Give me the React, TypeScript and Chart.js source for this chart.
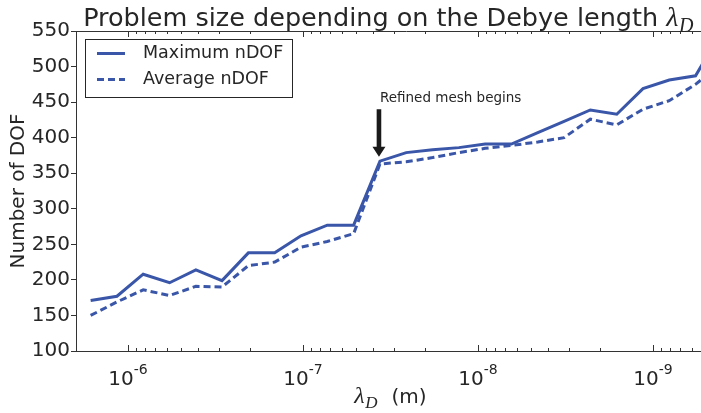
import { useEffect, useRef } from 'react';
import { Chart, registerables } from 'chart.js';

Chart.register(...registerables);

// Debye length of each run (m), from coarse to fine
const debyeLength = [
  1.633e-6, 1.155e-6, 8.18e-7, 5.78e-7, 4.09e-7, 2.9e-7, 2.05e-7, 1.45e-7,
  1.026e-7, 7.26e-8, 5.13e-8, 3.63e-8, 2.57e-8, 1.816e-8, 1.285e-8, 9.09e-9,
  6.44e-9, 4.55e-9, 3.22e-9, 2.28e-9, 1.61e-9, 1.14e-9, 8.07e-10, 5.71e-10,
  4.04e-10,
];
// Degrees of freedom per run
const maxDof = [
  171, 177, 208, 196, 214, 199, 238, 238, 262, 277, 277, 367, 379, 383, 386,
  391, 391, 407, 423, 439, 433, 469, 481, 487, 550,
];
const avgDof = [
  150, 169, 186, 178, 191, 190, 220, 225, 246, 254, 265, 363, 366, 372, 379,
  385, 389, 394, 400, 426, 418, 440, 452, 475, 505,
];
const seriesNames = ['Maximum nDOF', 'Average nDOF'];
const yLimits = [100, 550];
const yStep = 50;
const xLimits = [3.31e-10, 1.98e-6];
const xDecades = [-6, -7, -8, -9];
// Annotation: index where the refined mesh starts
const refinedIndex = 11;
const annotationText = 'Refined mesh begins';
const arrowTipValue = 373;
const arrowTailValue = 440;
const annotationTextValue = 450;

const LINE = '#3a56a8';
const INK = '#262626';
const SPINE = '#333333';
const SANS = '"DejaVu Sans"';
const MATH = '"Liberation Serif"';

function drawMathLambda(ctx: CanvasRenderingContext2D, x: number, y: number, size: number) {
  // italic lambda with a subscript D; returns the drawn width
  ctx.font = `italic ${size}px ${MATH}`;
  ctx.fillText('λ', x, y);
  const w1 = ctx.measureText('λ').width;
  const sub = Math.round(size * 0.7);
  ctx.font = `italic ${sub}px ${MATH}`;
  ctx.fillText('D', x + w1 + 0.5, y + size * 0.22);
  return w1 + 0.5 + ctx.measureText('D').width;
}

const decorPlugin = {
  id: 'decor',
  afterDraw(chart: any) {
    const { ctx, chartArea: a, scales } = chart;
    const xs = scales.x;
    const ys = scales.y;
    ctx.save();

    // top spine
    ctx.strokeStyle = SPINE;
    ctx.lineWidth = 1;
    ctx.beginPath();
    ctx.moveTo(a.left, Math.round(a.top) + 0.5);
    ctx.lineTo(a.right, Math.round(a.top) + 0.5);
    ctx.stroke();

    // inward log ticks on bottom and top
    const lo = xs.min;
    const hi = xs.max;
    ctx.beginPath();
    for (let e = -11; e <= -4; e++) {
      for (let m = 1; m <= 9; m++) {
        const v = m * Math.pow(10, e);
        if (v < lo || v > hi) continue;
        const px = Math.round(xs.getPixelForValue(v)) + 0.5;
        const len = m === 1 ? 6 : 3;
        ctx.moveTo(px, a.bottom);
        ctx.lineTo(px, a.bottom - len);
        ctx.moveTo(px, a.top);
        ctx.lineTo(px, a.top + len);
      }
    }
    ctx.stroke();

    // x tick labels 10^n
    ctx.fillStyle = INK;
    ctx.textBaseline = 'alphabetic';
    ctx.textAlign = 'left';
    for (const d of xDecades) {
      const px = xs.getPixelForValue(Math.pow(10, d));
      ctx.font = `20px ${SANS}`;
      const wBase = ctx.measureText('10').width;
      ctx.font = `14px ${SANS}`;
      const exp = String(d);
      const wExp = ctx.measureText(exp).width;
      const start = px - (wBase + wExp) / 2;
      ctx.font = `20px ${SANS}`;
      ctx.fillText('10', start, a.bottom + 34);
      ctx.font = `14px ${SANS}`;
      ctx.fillText(exp, start + wBase, a.bottom + 23);
    }

    // x axis title
    {
      ctx.font = `20px ${SANS}`;
      const unit = '(m)';
      const wUnit = ctx.measureText(unit).width;
      ctx.font = `italic 24px ${MATH}`;
      const wL = ctx.measureText('λ').width;
      ctx.font = `italic 17px ${MATH}`;
      const wD = ctx.measureText('D').width;
      const gap = 14;
      const total = wL + 0.5 + wD + gap + wUnit;
      const cx = (a.left + 701) / 2 + 2;
      const x0 = cx - total / 2;
      const base = a.bottom + 52;
      drawMathLambda(ctx, x0, base, 24);
      ctx.font = `20px ${SANS}`;
      ctx.fillText(unit, x0 + wL + 0.5 + wD + gap, base);
    }

    // y axis title
    ctx.save();
    ctx.translate(24, (a.top + a.bottom) / 2);
    ctx.rotate(-Math.PI / 2);
    ctx.textAlign = 'center';
    ctx.font = `20px ${SANS}`;
    ctx.fillText('Number of DOF', 0, 0);
    ctx.restore();

    // title
    {
      const text = 'Problem size depending on the Debye length ';
      ctx.font = `25.5px ${SANS}`;
      const wT = ctx.measureText(text).width;
      ctx.font = `italic 28px ${MATH}`;
      const wL = ctx.measureText('λ').width;
      ctx.font = `italic 20px ${MATH}`;
      const wD = ctx.measureText('D').width;
      const total = wT + wL + wD;
      const x0 = 388 - total / 2;
      const base = 26;
      ctx.font = `25.5px ${SANS}`;
      ctx.fillText(text, x0, base);
      drawMathLambda(ctx, x0 + wT, base, 28);
    }

    // annotation arrow and text
    {
      const ax = xs.getPixelForValue(debyeLength[refinedIndex]) - 1;
      const tipY = ys.getPixelForValue(arrowTipValue);
      const tailY = ys.getPixelForValue(arrowTailValue);
      const textY = ys.getPixelForValue(annotationTextValue);
      ctx.fillStyle = '#1a1a1a';
      const headLen = 10;
      const headHalf = 6.5;
      const shaftHalf = 2.3;
      ctx.beginPath();
      ctx.moveTo(ax - shaftHalf, tailY);
      ctx.lineTo(ax + shaftHalf, tailY);
      ctx.lineTo(ax + shaftHalf, tipY - headLen);
      ctx.lineTo(ax + headHalf, tipY - headLen);
      ctx.lineTo(ax, tipY);
      ctx.lineTo(ax - headHalf, tipY - headLen);
      ctx.lineTo(ax - shaftHalf, tipY - headLen);
      ctx.closePath();
      ctx.fill();
      ctx.fillStyle = INK;
      ctx.font = `13.5px ${SANS}`;
      ctx.textAlign = 'left';
      ctx.fillText(annotationText, ax + 1, textY);
    }

    // legend
    {
      const bx = 85.5, by = 39.5, bw = 207, bh = 58;
      ctx.fillStyle = '#ffffff';
      ctx.fillRect(bx, by, bw, bh);
      ctx.strokeStyle = INK;
      ctx.lineWidth = 1;
      ctx.strokeRect(bx, by, bw, bh);
      const rows = [by + 14, by + 40];
      chart.data.datasets.forEach((ds: any, i: number) => {
        ctx.strokeStyle = ds.borderColor;
        ctx.lineWidth = ds.borderWidth;
        ctx.setLineDash(ds.borderDash || []);
        ctx.beginPath();
        ctx.moveTo(97, rows[i]);
        ctx.lineTo(125, rows[i]);
        ctx.stroke();
        ctx.setLineDash([]);
        ctx.fillStyle = INK;
        ctx.font = `17.5px ${SANS}`;
        ctx.textBaseline = 'middle';
        ctx.fillText(ds.label, 143, rows[i]);
      });
    }

    ctx.restore();
  },
};

export default function App() {
  const canvasRef = useRef<HTMLCanvasElement | null>(null);

  useEffect(() => {
    const canvas = canvasRef.current;
    if (!canvas) return;
    const yTickValues: number[] = [];
    for (let v = yLimits[0]; v <= yLimits[1]; v += yStep) yTickValues.push(v);

    const chart = new Chart(canvas, {
      type: 'line',
      data: {
        datasets: [
          {
            label: seriesNames[0],
            data: debyeLength.map((x, i) => ({ x, y: maxDof[i] })),
            borderColor: LINE,
            borderWidth: 3,
            pointRadius: 0,
            fill: false,
            tension: 0,
          },
          {
            label: seriesNames[1],
            data: debyeLength.map((x, i) => ({ x, y: avgDof[i] })),
            borderColor: LINE,
            borderWidth: 3,
            borderDash: [7, 4],
            pointRadius: 0,
            fill: false,
            tension: 0,
          },
        ],
      },
      options: {
        animation: false,
        responsive: false,
        devicePixelRatio: 1,
        layout: { padding: { top: 31, right: 3, left: 0, bottom: 0 } },
        plugins: {
          legend: { display: false },
          title: { display: false },
          tooltip: { enabled: false },
        },
        scales: {
          x: {
            type: 'logarithmic',
            reverse: true,
            min: xLimits[0],
            max: xLimits[1],
            ticks: { display: false },
            grid: { display: false },
            border: { display: true, color: SPINE, width: 1 },
            afterFit: (s: any) => {
              s.height = 62;
            },
          },
          y: {
            type: 'linear',
            min: yLimits[0],
            max: yLimits[1],
            afterBuildTicks: (s: any) => {
              s.ticks = yTickValues.map((value) => ({ value }));
            },
            ticks: {
              font: { family: 'DejaVu Sans', size: 20 },
              color: INK,
              padding: 1,
            },
            grid: {
              drawOnChartArea: false,
              drawTicks: true,
              tickLength: 5,
              color: SPINE,
            },
            border: { display: true, color: SPINE, width: 1 },
            afterFit: (s: any) => {
              s.width = 76;
            },
          },
        },
      },
      plugins: [decorPlugin],
    });
    return () => chart.destroy();
  }, []);

  return (
    <div
      style={{
        position: 'fixed',
        left: 0,
        top: 0,
        width: 701,
        height: 413,
        overflow: 'hidden',
        background: '#ffffff',
      }}
    >
      <canvas ref={canvasRef} width={740} height={413} style={{ display: 'block' }} />
    </div>
  );
}
